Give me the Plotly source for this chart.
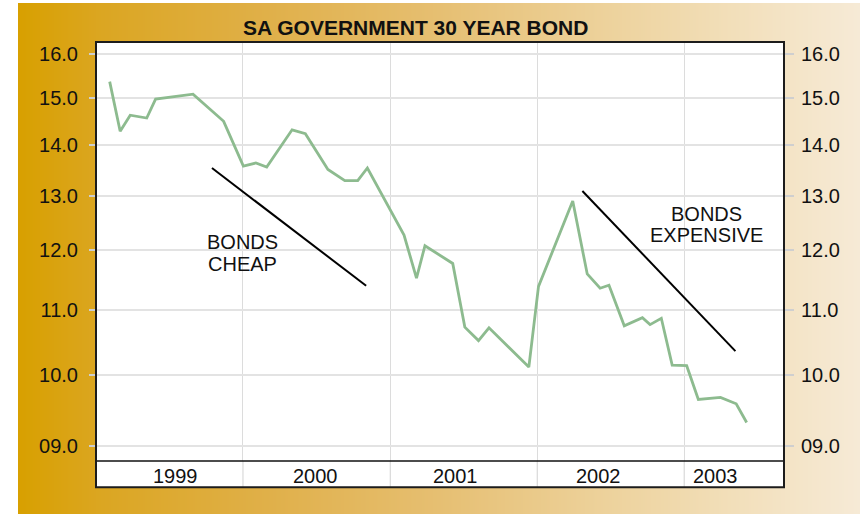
import math, zlib, struct, base64
import plotly.graph_objects as go

# ---------------- data ----------------
dates = ["1999-02-04", "1999-03-02", "1999-03-27", "1999-05-07", "1999-05-29", "1999-08-30",
         "1999-11-14", "2000-01-02", "2000-02-02", "2000-02-29", "2000-05-02", "2000-06-04",
         "2000-07-30", "2000-09-10", "2000-10-12", "2000-11-05", "2001-02-04", "2001-03-07",
         "2001-03-28", "2001-06-05", "2001-07-05", "2001-08-08", "2001-09-03", "2001-12-11",
         "2002-01-04", "2002-03-30", "2002-05-05", "2002-06-06", "2002-06-28", "2002-08-05",
         "2002-09-19", "2002-10-08", "2002-11-05", "2002-12-02", "2003-01-07", "2003-02-05",
         "2003-04-01", "2003-05-10", "2003-06-05"]
yields = [15.37, 14.29, 14.63, 14.57, 14.98, 15.09,
          14.50, 13.58, 13.64, 13.56, 14.32, 14.24,
          13.51, 13.29, 13.29, 13.54, 12.27, 11.52,
          12.08, 11.77, 10.72, 10.51, 10.71, 10.11,
          11.38, 12.90, 11.59, 11.35, 11.40, 10.74,
          10.87, 10.76, 10.86, 10.14, 10.13, 9.64,
          9.67, 9.58, 9.32]

cheap_line_dates = ["1999-10-16", "2000-11-02"]
cheap_line_vals = [13.54, 11.39]
exp_line_dates = ["2002-04-23", "2003-05-08"]
exp_line_vals = [13.09, 10.35]

year_labels = ["1999", "2000", "2001", "2002", "2003"]
year_label_dates = ["1999-07-17", "2000-06-30", "2001-06-13", "2002-06-03", "2003-03-20"]
year_starts = ["1999-01-01", "2000-01-01", "2001-01-01", "2002-01-01", "2003-01-01"]

tick_vals = [9, 10, 11, 12, 13, 14, 15, 16]
tick_text = ["09.0", "10.0", "11.0", "12.0", "13.0", "14.0", "15.0", "16.0"]

title_text = "SA GOVERNMENT 30 YEAR BOND"
cheap_text = ["BONDS", "CHEAP"]
cheap_text_pos = [("1999-12-31", 12.15), ("1999-12-31", 11.76)]
exp_text = ["BONDS", "EXPENSIVE"]
exp_text_pos = [("2003-02-24", 12.65), ("2003-02-24", 12.27)]

# ---------------- geometry ----------------
W, H = 860, 514
PL, PR, PT, PB = 96, 784, 42, 461
BAND_BOTTOM = 487.3
FONT = "Liberation Sans, Arial, Helvetica, sans-serif"


def pxx(px):
    return (px - PL) / (PR - PL)


def pyy(py):
    return (PB - py) / (PB - PT)


# ---------------- gradient background image ----------------
stops = [(0.0, (216, 160, 0)), (0.1, (219, 166, 34)), (0.3, (224, 176, 74)),
         (0.5, (230, 191, 114)), (0.7, (237, 210, 156)), (0.85, (242, 223, 186)),
         (1.0, (246, 234, 214))]


def grad_color(f):
    for (p0, c0), (p1, c1) in zip(stops[:-1], stops[1:]):
        if p0 <= f <= p1:
            t = (f - p0) / (p1 - p0)
            return tuple(int(round(a + (b - a) * t)) for a, b in zip(c0, c1))
    return stops[-1][1]


def make_png(w, h):
    row = bytes(c for i in range(w) for c in grad_color(i / (w - 1)))
    raw = b"".join(b"\x00" + row for _ in range(h))

    def chunk(t, d):
        return struct.pack(">I", len(d)) + t + d + struct.pack(">I", zlib.crc32(t + d) & 0xffffffff)
    return (b"\x89PNG\r\n\x1a\n" + chunk(b"IHDR", struct.pack(">IIBBBBB", w, h, 8, 2, 0, 0, 0))
            + chunk(b"IDAT", zlib.compress(raw)) + chunk(b"IEND", b""))


GX0, GY0, GX1, GY1 = 18, 3, 860, 514
png = make_png(GX1 - GX0, 4)
src = "data:image/png;base64," + base64.b64encode(png).decode()

# ---------------- figure ----------------
fig = go.Figure()
fig.add_trace(go.Scatter(x=dates, y=yields, mode="lines",
                         line=dict(color="#8dbb8f", width=2.8), hoverinfo="skip", showlegend=False))
fig.add_trace(go.Scatter(x=cheap_line_dates, y=cheap_line_vals, mode="lines",
                         line=dict(color="#000000", width=2), hoverinfo="skip", showlegend=False))
fig.add_trace(go.Scatter(x=exp_line_dates, y=exp_line_vals, mode="lines",
                         line=dict(color="#000000", width=2), hoverinfo="skip", showlegend=False))
fig.add_trace(go.Scatter(x=dates, y=yields, mode="lines", yaxis="y2",
                         line=dict(color="rgba(0,0,0,0)", width=0), hoverinfo="skip", showlegend=False))

yrange = [math.log10(8.808), math.log10(16.29)]

shapes = []
# white frame area (plot + band)
shapes.append(dict(type="rect", xref="paper", yref="paper", x0=0, x1=1, y0=pyy(BAND_BOTTOM), y1=1,
                   fillcolor="white", line=dict(width=0), layer="below"))
for d in year_starts[1:]:
    shapes.append(dict(type="line", xref="x", yref="paper", x0=d, x1=d, y0=pyy(BAND_BOTTOM), y1=0,
                       line=dict(color="#dcdcdc", width=1.3), layer="below"))
shapes.append(dict(type="line", xref="paper", yref="paper", x0=0, x1=1, y0=0, y1=0,
                   line=dict(color="#111111", width=1.5), layer="above"))
shapes.append(dict(type="rect", xref="paper", yref="paper", x0=0, x1=1, y0=pyy(BAND_BOTTOM), y1=1,
                   line=dict(color="#1c1c1c", width=2), layer="above"))

annotations = [dict(text=title_text, xref="paper", yref="paper", x=pxx(415.5), y=pyy(27.5),
                    xanchor="center", yanchor="middle", showarrow=False,
                    font=dict(family=FONT, size=21, color="#111111", weight="bold"))]
for lab, d in zip(year_labels, year_label_dates):
    annotations.append(dict(text=lab, xref="x", yref="paper", x=d, y=pyy(475.5),
                            xanchor="center", yanchor="middle", showarrow=False,
                            font=dict(family=FONT, size=20, color="#111111")))
for txt, (d, v) in list(zip(cheap_text, cheap_text_pos)) + list(zip(exp_text, exp_text_pos)):
    annotations.append(dict(text=txt, xref="x", yref="y", x=d, y=math.log10(v),
                            xanchor="center", yanchor="middle", showarrow=False,
                            font=dict(family=FONT, size=20, color="#111111")))

yaxis_common = dict(type="log", range=yrange, tickmode="array", tickvals=tick_vals, ticktext=tick_text,
                    ticks="outside", tickcolor="#cfcfcf", tickwidth=1.5,
                    tickfont=dict(family=FONT, size=20, color="#111111"),
                    zeroline=False, showline=False, fixedrange=True)

fig.update_layout(
    width=W, height=H,
    margin=dict(l=PL, r=W - PR, t=PT, b=H - PB, autoexpand=False),
    paper_bgcolor="white", plot_bgcolor="rgba(0,0,0,0)",
    showlegend=False,
    xaxis=dict(type="date", range=["1999-01-01", "2003-09-05 17:00"], showticklabels=False,
               ticks="", tick0="1999-01-01", dtick="M12", showgrid=True, gridcolor="#dcdcdc",
               gridwidth=1.3, zeroline=False, showline=False, fixedrange=True),
    yaxis=dict(**yaxis_common, side="left", ticklen=6, ticklabelstandoff=7,
               showgrid=True, gridcolor="#e3e3e3", gridwidth=1.5),
    yaxis2=dict(**yaxis_common, side="right", overlaying="y", ticklen=9, ticklabelstandoff=3,
                showgrid=False),
    images=[dict(source=src, xref="paper", yref="paper", x=pxx(GX0), y=pyy(GY0),
                 sizex=(GX1 - GX0) / (PR - PL), sizey=(GY1 - GY0) / (PB - PT),
                 xanchor="left", yanchor="top", sizing="stretch", layer="below")],
    shapes=shapes,
    annotations=annotations,
)

fig.write_html("out.html", config={"displayModeBar": False},
               post_script="document.body.style.margin='0';document.body.style.padding='0';")
